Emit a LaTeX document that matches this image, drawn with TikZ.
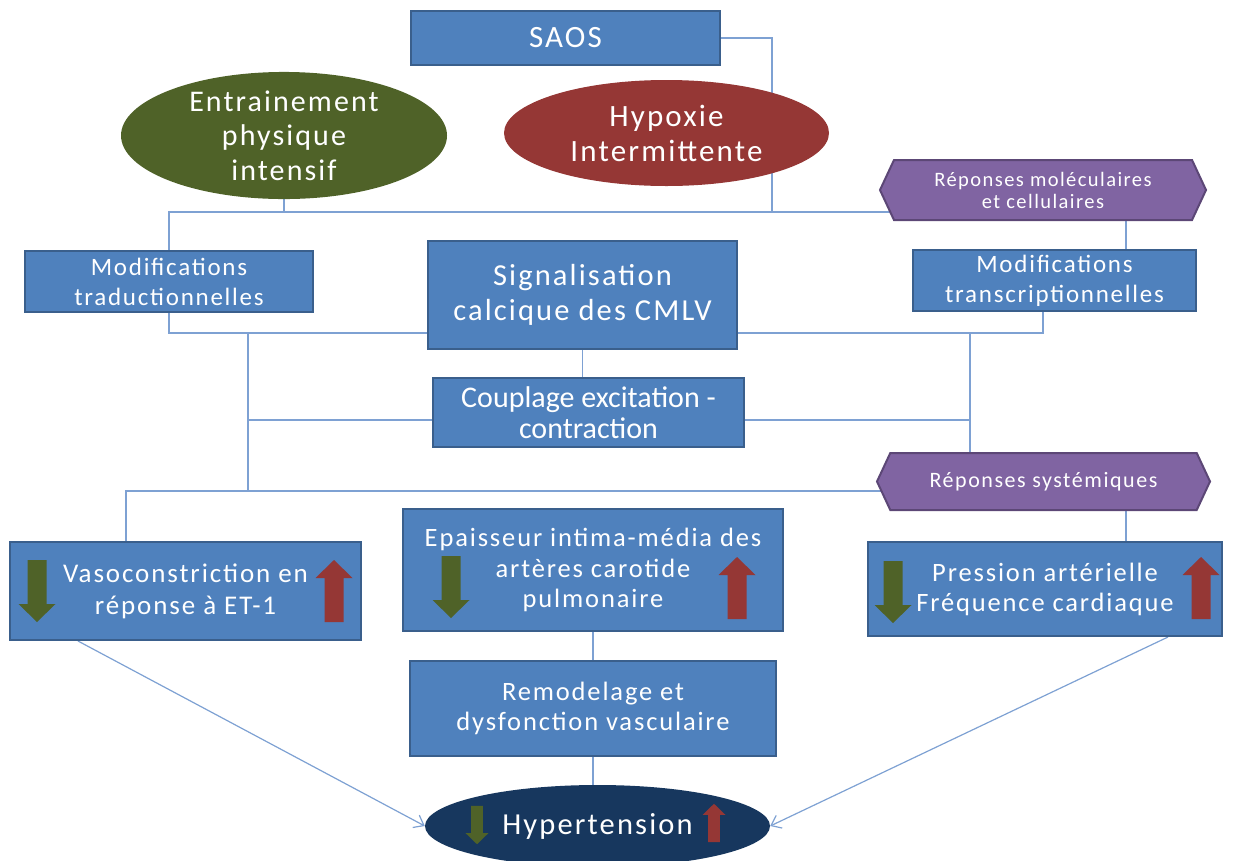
\documentclass[tikz,border=0pt]{standalone}
\usepackage{fontspec}
\setmainfont{Carlito}[LetterSpace=7]
\newfontfamily\serre{Carlito}
\usetikzlibrary{arrows.meta,positioning,shapes.geometric,shapes.symbols,backgrounds}

\definecolor{bleuboite}{HTML}{4F81BD}
\definecolor{bordboite}{HTML}{3A5F8C}
\definecolor{vertfonce}{HTML}{4F6228}
\definecolor{rougefonce}{HTML}{953735}
\definecolor{mauve}{HTML}{8064A2}
\definecolor{bordmauve}{HTML}{5C4776}
\definecolor{marine}{HTML}{17375E}
\definecolor{lienbleu}{HTML}{7EA1D3}

\newcommand{\taille}[2]{\fontsize{#1}{#2}\selectfont}

\tikzset{
  boite/.style={draw=bordboite,line width=2pt,fill=bleuboite,text=white,
    align=center,inner sep=0pt},
  ovale/.style={ellipse,text=white,align=center,inner sep=0pt},
  hexa/.style={signal,signal to=west and east,signal pointer angle=130,
    draw=bordmauve,line width=2pt,fill=mauve,text=white,align=center,inner sep=0pt},
  lien/.style={lienbleu,line width=1.2pt},
  fleche/.style={lien,-{Straight Barb[length=9pt,width=14pt]}},
  % fleches pleines
  bas/.pic={\fill[vertfonce] (-9.5,-31) -- (9.5,-31) -- (9.5,13) -- (18.5,13)
    -- (0,31) -- (-18.5,13) -- (-9.5,13) -- cycle;},
  haut/.pic={\fill[rougefonce] (-9.5,31) -- (9.5,31) -- (9.5,-13) -- (18.5,-13)
    -- (0,-31) -- (-18.5,-13) -- (-9.5,-13) -- cycle;}
}

\begin{document}
\begin{tikzpicture}[x=1pt,y=-1pt]
  \useasboundingbox (0,0) rectangle (1233,860);

  % --- haut
  \node[boite,minimum width=309,minimum height=54,font=\taille{31}{34}]
       (saos) at (565.5,38) {SAOS};
  \node[ovale,fill=rougefonce,minimum width=325,minimum height=106,
        font=\taille{31}{35}] (hypo) at (666.5,133) {Hypoxie\\Intermittente};
  \node[ovale,fill=vertfonce,minimum width=326,minimum height=111,
        font=\taille{30}{34.5}] (ent) at (284,135.5)
       {Entrainement\\physique\\intensif};
  \node[hexa,minimum width=326,minimum height=60,font=\taille{20.5}{22}]
       (rmc) at (1043,190) {Réponses moléculaires\\et cellulaires};

  % --- milieu
  \node[boite,minimum width=288,minimum height=61,font=\taille{25}{30}]
       (trad) at (169,281.5) {Modifications\\traductionnelles};
  \node[boite,minimum width=309,minimum height=108,font=\taille{30.5}{35}]
       (sig) at (582.5,295) {Signalisation\\calcique des CMLV};
  \node[boite,minimum width=283,minimum height=61,font=\taille{25}{30}]
       (transc) at (1054.5,280.5) {Modifications\\transcriptionnelles};
  \node[boite,minimum width=311,minimum height=69,font=\serre\taille{30}{31}]
       (coupl) at (588.5,412.5) {Couplage excitation -\\contraction};
  \node[hexa,minimum width=333,minimum height=57,font=\taille{22}{22}]
       (rsys) at (1043.5,481.5) {Réponses systémiques};

  % --- bas
  \node[boite,minimum width=351,minimum height=98,font=\taille{27}{32}]
       (vaso) at (185.5,591) {Vasoconstriction en\\réponse à ET-1};
  \node[boite,minimum width=380,minimum height=122,font=\taille{26.5}{30.5}]
       (epais) at (593,570) {Epaisseur intima-média des\\artères carotide\\pulmonaire};
  \node[boite,minimum width=354,minimum height=94,font=\taille{26.5}{30}]
       (pres) at (1045,589) {Pression artérielle\\Fréquence cardiaque};
  \node[boite,minimum width=366,minimum height=95,font=\taille{26.5}{30}]
       (remod) at (593,708.5) {Remodelage et\\dysfonction vasculaire};
  \node[ovale,fill=marine,minimum width=345,minimum height=82,
        font=\taille{30.5}{34}] (hyt) at (597.5,826) {Hypertension};

  \pic at (37,591) {bas};
  \pic at (334,591) {haut};
  \pic at (451,587) {bas};
  \pic at (737,588) {haut};
  \pic at (893,592) {bas};
  \pic at (1201,588) {haut};
  \pic[scale=0.62] at (477,825) {bas};
  \pic[scale=0.62] at (714,823) {haut};

  % --- jonctions
  \coordinate (j1) at (772,212);
  \coordinate (j3) at (0,333);
  \coordinate (j4) at (0,420);
  \coordinate (j5) at (126,491);
  \coordinate (cx) at (1126,0);
  \coordinate (gx) at (248,333);
  \coordinate (dx) at (970,333);
  \coordinate (ax) at (78,0);
  \coordinate (bx) at (1168,0);

  \begin{scope}[on background layer]
    \draw[lien] (saos.east) -| (j1);
    \draw[lien] (trad.north) |- (rmc.center |- j1);
    \draw[lien] (ent.south) -- (ent.south |- j1);
    \draw[lien] (rmc.south -| cx) -- (transc.north -| cx);
    \draw[lien] (trad.south) |- (sig.center |- j3);
    \draw[lien] (transc.south -| rmc.center) |- (sig.center |- j3);
    \draw[lien] (sig.south) -- (sig.south |- coupl.north);
    \draw[lien] (gx) -- (gx |- j5);
    \draw[lien] (gx |- j4) -- (coupl.west |- j4);
    \draw[lien] (dx) -- (dx |- rsys.north);
    \draw[lien] (coupl.east |- j4) -- (dx |- j4);
    \draw[lien] (vaso.north -| j5) |- (rsys.center |- j5);
    \draw[lien] (rsys.south -| cx) -- (pres.north -| cx);
    \draw[lien] (epais.south) -- (remod.north);
    \draw[lien] (remod.south) -- (remod.south |- hyt.north);
    \draw[fleche] (vaso.south -| ax) -- (hyt.west);
    \draw[fleche] (pres.south -| bx) -- (hyt.east);
  \end{scope}
\end{tikzpicture}
\end{document}
